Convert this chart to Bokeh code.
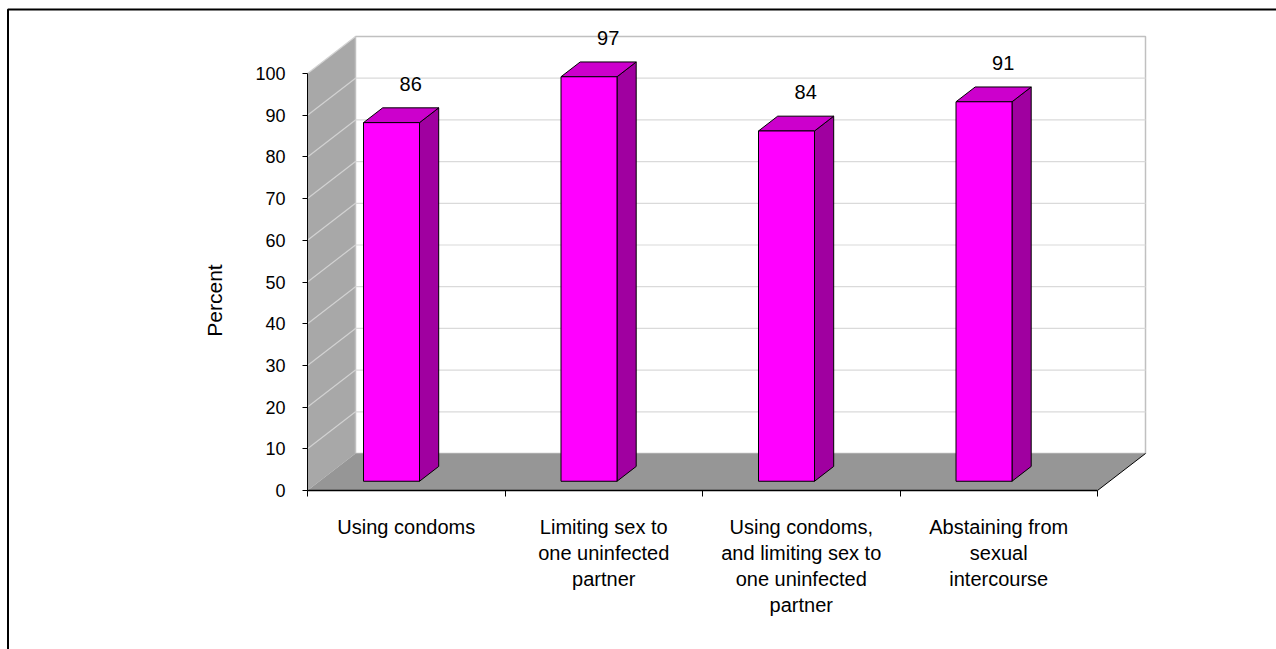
import numpy as np
from bokeh.plotting import figure
from bokeh.models import Range1d, LinearAxis, FixedTicker, ColumnDataSource
from bokeh.core.properties import value
from bokeh.embed import file_html
from bokeh.resources import INLINE

# ---- data -------------------------------------------------------------
categories = [
    "Using condoms",
    "Limiting sex to\none uninfected\npartner",
    "Using condoms,\nand limiting sex to\none uninfected\npartner",
    "Abstaining from\nsexual\nintercourse",
]
percents = [86, 97, 84, 91]
y_ticks = [0, 10, 20, 30, 40, 50, 60, 70, 80, 90, 100]
y_title = "Percent"

# ---- canvas / scale layout (pixels) ----------------------------------
W, H = 1276, 649
X0_PX, X_UNIT_PX = 307, 197.5      # pixel of category boundary 0, pixels per category
Y0_PX, Y_UNIT_PX = 490, 4.17       # pixel of value 0, pixels per percent

x_start = -X0_PX / X_UNIT_PX
x_end = x_start + W / X_UNIT_PX
y_end = Y0_PX / Y_UNIT_PX
y_start = y_end - H / Y_UNIT_PX

def px_x(px):
    return x_start + px / X_UNIT_PX

def px_y(py):
    return y_end - py / Y_UNIT_PX

# depth of the 3-D box (floor / walls), in data units
DX = 48 / X_UNIT_PX
DY = 37 / Y_UNIT_PX
# bar placement within a category
BAR_LEFT = 44 / X_UNIT_PX
BAR_W = 56 / X_UNIT_PX
F0, F1 = 0.25, 0.65                # bar front/back as a fraction of the box depth

FONT = "Liberation Sans"

p = figure(width=W, height=H, x_range=Range1d(x_start, x_end),
           y_range=Range1d(y_start, y_end), x_axis_type=None, y_axis_type=None,
           toolbar_location=None, output_backend="svg", min_border=0,
           background_fill_color="white", border_fill_color="white")
p.outline_line_color = None
p.grid.visible = False

n = len(categories)
xmax = float(n)
ticks = np.array(y_ticks, dtype=float)
ymax = ticks.max()

# ---- outer chart-area border (left and top edges) --------------------
p.line([px_x(7.5), px_x(7.5), x_end + 1], [y_start - 10, px_y(9), px_y(9)],
       line_color="black", line_width=2)

# ---- walls -----------------------------------------------------------
p.patch([0, DX, DX, 0], [0, DY, ymax + DY, ymax],
        fill_color="#A8A8A8", line_color=None)
p.patch([DX, xmax + DX, xmax + DX, DX], [DY, DY, ymax + DY, ymax + DY],
        fill_color="white", line_color="#C0C0C0", line_width=1.5)

p.segment(x0=DX, y0=ticks[1:-1] + DY, x1=xmax + DX, y1=ticks[1:-1] + DY,
          line_color="#DADADA", line_width=1.2)
p.segment(x0=np.zeros(len(ticks) - 1), y0=ticks[1:], x1=np.full(len(ticks) - 1, DX),
          y1=ticks[1:] + DY, line_color="#D2D2D2", line_width=1.2)

# ---- floor -----------------------------------------------------------
p.patch([0, xmax, xmax + DX, DX], [0, 0, DY, DY],
        fill_color="#969696", line_color=None)
p.line([xmax, xmax + DX], [0, DY], line_color="black", line_width=1)

# ---- bars ------------------------------------------------------------
idx = np.arange(n)
vals = np.array(percents, dtype=float)
L = idx + BAR_LEFT
R = L + BAR_W
fx0, fy0 = F0 * DX, F0 * DY
fx1, fy1 = F1 * DX, F1 * DY

side = ColumnDataSource(dict(
    xs=[[r + fx0, r + fx1, r + fx1, r + fx0] for r in R],
    ys=[[fy0, fy1, v + fy1, v + fy0] for v in vals]))
top = ColumnDataSource(dict(
    xs=[[l + fx0, r + fx0, r + fx1, l + fx1] for l, r in zip(L, R)],
    ys=[[v + fy0, v + fy0, v + fy1, v + fy1] for v in vals]))
front = ColumnDataSource(dict(left=L + fx0, right=R + fx0,
                              bottom=np.full(n, fy0), top=vals + fy0))

p.patches("xs", "ys", source=side, fill_color="#A000A0", line_color="black", line_width=1)
p.patches("xs", "ys", source=top, fill_color="#CC00CC", line_color="black", line_width=1)
p.quad(left="left", right="right", bottom="bottom", top="top", source=front,
       fill_color="#FF00FF", line_color="black", line_width=1)

# value labels above each bar
lab = ColumnDataSource(dict(x=(L + R) / 2 + fx1, y=vals + fy1 + 5.8,
                            text=[str(v) for v in percents]))
p.text(x="x", y="y", text="text", source=lab, text_font=value(FONT),
       text_font_size="20px", text_align="center", text_baseline="middle",
       text_color="black")

# ---- axes ------------------------------------------------------------
yaxis = LinearAxis(fixed_location=0, bounds=(0, ymax),
                   ticker=FixedTicker(ticks=list(y_ticks)))
yaxis.major_tick_in = 0
yaxis.major_tick_out = 5
yaxis.minor_tick_line_color = None
yaxis.axis_line_color = "black"
yaxis.major_tick_line_color = "black"
yaxis.major_label_text_font = FONT
yaxis.major_label_text_font_size = "18px"
yaxis.major_label_text_color = "black"
yaxis.major_label_standoff = 17
p.add_layout(yaxis, "left")

xaxis = LinearAxis(fixed_location=0, bounds=(0, xmax),
                   ticker=FixedTicker(ticks=list(range(n + 1))))
xaxis.major_tick_in = 0
xaxis.major_tick_out = 6
xaxis.minor_tick_line_color = None
xaxis.axis_line_color = "black"
xaxis.axis_line_width = 1.5
xaxis.major_tick_line_color = "black"
xaxis.major_label_text_color = None
p.add_layout(xaxis, "below")

# vertical value-axis title
p.text(x=[px_x(214)], y=[px_y(300)], text=[y_title], angle=np.pi / 2,
       text_font=value(FONT), text_font_size="21px", text_align="center",
       text_baseline="middle", text_color="black")

# category labels under the floor
cat = ColumnDataSource(dict(x=idx + 0.5, y=np.full(n, -6.2), text=categories))
p.text(x="x", y="y", text="text", source=cat, text_font=value(FONT),
       text_font_size="20px", text_align="center", text_baseline="top",
       text_line_height=1.17, text_color="black")

open("out.html", "w").write(file_html(p, INLINE))
